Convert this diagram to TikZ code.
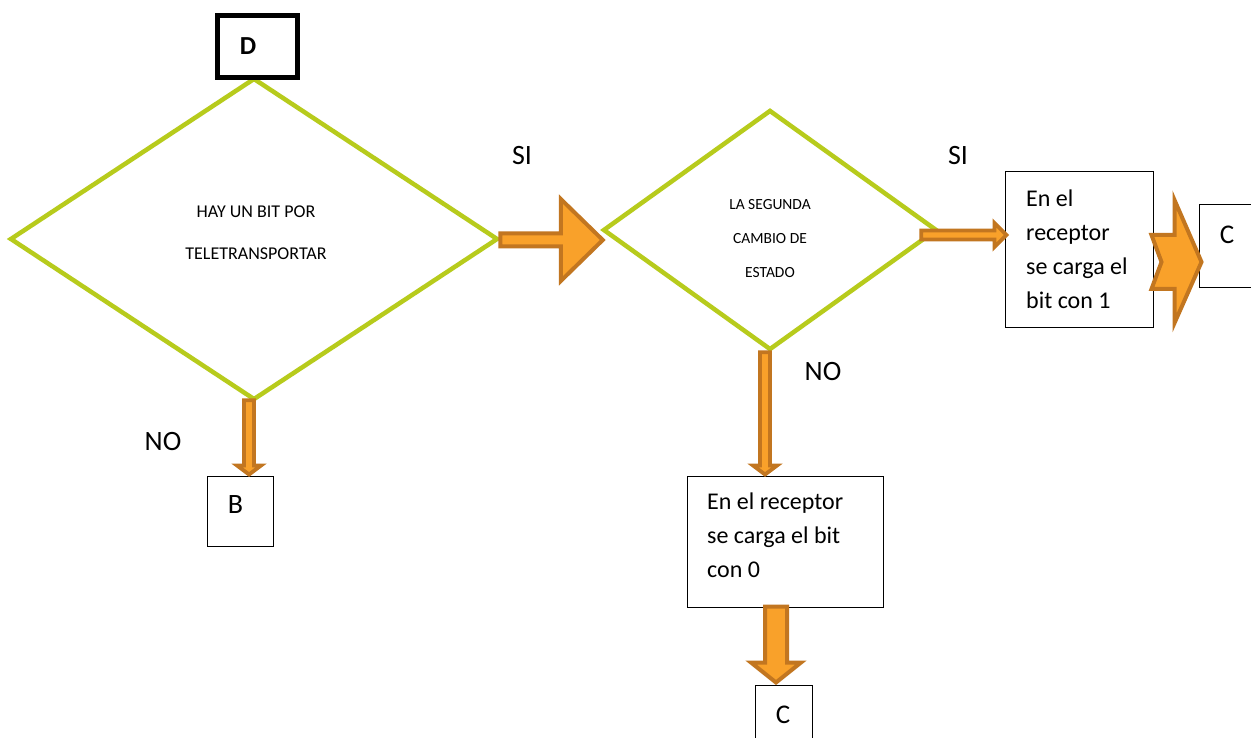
\documentclass[tikz,border=0pt]{standalone}
\usepackage{fontspec}
\setmainfont{Carlito}
\usetikzlibrary{shapes.geometric,calc}
\definecolor{lime}{HTML}{B7CB1C}
\definecolor{orfill}{HTML}{F9A12A}
\definecolor{ordraw}{HTML}{C27620}
\tikzset{
  dec/.style={diamond, draw=lime, line width=4.5pt, inner sep=0pt},
  box/.style={rectangle, draw=black, line width=1pt, inner sep=0pt},
  bigarrow/.style={fill=orfill, draw=ordraw, line width=4pt, line join=miter},
  thinarrow/.style={fill=orfill, draw=ordraw, line width=3.8pt, line join=miter},
  lbl/.style={inner sep=0pt, font=\fontsize{28}{30}\selectfont},
  dtxt1/.style={inner sep=0pt, align=center, font=\fontsize{18}{42}\selectfont},
  dtxt2/.style={inner sep=0pt, align=center, font=\fontsize{15.5}{34}\selectfont},
  btxt/.style={inner sep=0pt, align=left, anchor=west, font=\fontsize{24}{34}\selectfont},
}
\begin{document}
\begin{tikzpicture}[x=1pt,y=-1pt]
\useasboundingbox (0,0) rectangle (1251,738);
\fill[white] (0,0) rectangle (1251,738);

% decisions
\node[dec, minimum width=488, minimum height=322] (d1) at (254,239) {};
\node[dtxt1] (d1t) at (256,233) {HAY UN BIT POR\\TELETRANSPORTAR};
\node[dec, minimum width=334, minimum height=240] (d2) at (770,230) {};
\node[dtxt2] (d2t) at (770,239) {LA SEGUNDA\\CAMBIO DE\\ESTADO};

% boxes
\node[box, line width=5pt, minimum width=80, minimum height=62] (dbox) at (257.5,46.5) {};
\node[lbl, font=\fontsize{26}{30}\selectfont\bfseries] (dboxt) at (248,46) {D};

\node[box, minimum width=66, minimum height=70] (bbox) at (240,511) {};
\node[lbl] (bboxt) at (235.5,505) {B};

\node[box, minimum width=148, minimum height=155] (r1) at (1079,249.5) {};
\node[btxt] (r1t) at (1026,249.5) {En el\\receptor\\se carga el\\bit con 1};

\node[box, minimum width=196, minimum height=131] (r0) at (785,541.5) {};
\node[btxt] (r0t) at (707,535) {En el receptor\\se carga el bit\\con 0};

\node[box, minimum width=62, minimum height=83] (c1) at (1230,246.5) {};
\node[lbl, font=\fontsize{27}{30}\selectfont] (c1t) at (1227,235) {C};

\node[box, minimum width=57, minimum height=70] (c0) at (783.5,720) {};
\node[lbl, font=\fontsize{27}{30}\selectfont] (c0t) at (783,715) {C};

% labels
\node[lbl] (si1) at (522,156) {SI};
\node[lbl] (si2) at (958,156) {SI};
\node[lbl] (no1) at (163,442) {NO};
\node[lbl] (no2) at (823,372) {NO};

% arrow d1 -> d2
\coordinate (a1s) at ($(d1.east)+(0,1)$);
\coordinate (a1t) at (d2.west |- a1s);
\draw[bigarrow] ($(a1s)+(0,-6.5)$) -- ($(a1t)+(-40,-6.5)$) -- ($(a1t)+(-40,-41)$)
  -- ($(a1t)+(2,0)$) -- ($(a1t)+(-40,41)$) -- ($(a1t)+(-40,6.5)$) -- ($(a1s)+(0,6.5)$) -- cycle;

% arrow d2 -> r1
\coordinate (a2s) at ($(d2.east)+(-18,5)$);
\coordinate (a2t) at (r1.west |- a2s);
\draw[thinarrow] ($(a2s)+(0,-4.5)$) -- ($(a2t)+(-10,-4.5)$) -- ($(a2t)+(-10,-12)$)
  -- ($(a2t)+(2,0)$) -- ($(a2t)+(-10,12)$) -- ($(a2t)+(-10,4.5)$) -- ($(a2s)+(0,4.5)$) -- cycle;

% arrow d1 -> B
\coordinate (a3s) at ($(d1.south)+(-5,-2)$);
\coordinate (a3t) at (a3s |- bbox.north);
\draw[thinarrow] ($(a3s)+(-5,0)$) -- ($(a3t)+(-5,-10)$) -- ($(a3t)+(-12,-10)$)
  -- ($(a3t)+(0,-1)$) -- ($(a3t)+(12,-10)$) -- ($(a3t)+(5,-10)$) -- ($(a3s)+(5,0)$) -- cycle;

% arrow d2 -> r0
\coordinate (a4s) at ($(d2.south)+(-5,0)$);
\coordinate (a4t) at (a4s |- r0.north);
\draw[thinarrow] ($(a4s)+(-5,0)$) -- ($(a4t)+(-5,-10)$) -- ($(a4t)+(-12,-10)$)
  -- ($(a4t)+(0,-1)$) -- ($(a4t)+(12,-10)$) -- ($(a4t)+(5,-10)$) -- ($(a4s)+(5,0)$) -- cycle;

% arrow r0 -> c0
\coordinate (a5s) at ($(r0.south)+(-9,-1)$);
\coordinate (a5t) at (a5s |- c0.north);
\draw[bigarrow] ($(a5s)+(-11,0)$) -- ($(a5t)+(-11,-22)$) -- ($(a5t)+(-25,-22)$)
  -- ($(a5t)+(0,-2)$) -- ($(a5t)+(25,-22)$) -- ($(a5t)+(11,-22)$) -- ($(a5s)+(11,0)$) -- cycle;

% chevron r1 -> c1
\coordinate (a6t) at ($(c1.west)+(3,15.5)$);
\draw[bigarrow] ($(a6t)+(-50,-27)$) -- ($(a6t)+(-27,-27)$) -- ($(a6t)+(-27,-62)$)
  -- (a6t) -- ($(a6t)+(-27,61)$) -- ($(a6t)+(-27,27)$) -- ($(a6t)+(-50,27)$)
  -- ($(a6t)+(-40,0)$) -- cycle;
\end{tikzpicture}
\end{document}
